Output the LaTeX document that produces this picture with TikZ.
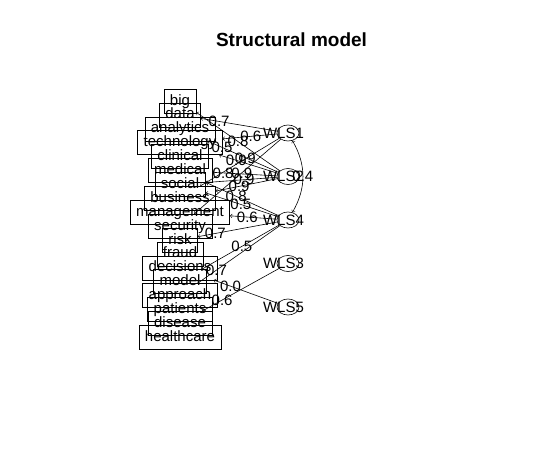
\documentclass[tikz,border=0pt]{standalone}
\usepackage{fontspec}
\setmainfont{Liberation Sans}
\usetikzlibrary{positioning, shapes.geometric, arrows}

\begin{document}
\begin{tikzpicture}
	[x=1pt, y=-1pt, on grid, line width=0.6pt, font=\fontsize{15}{17}\selectfont,
	 word/.style={draw, rectangle, inner xsep=6pt, inner ysep=0pt, minimum height=24pt,
	   text height=11pt, text depth=3pt},
	 latent/.style={draw, ellipse, minimum width=22pt, minimum height=16pt, inner sep=0pt},
	 lattext/.style={xshift=-4.5pt, inner sep=0pt},
	 load/.style={inner sep=0pt}]
   \useasboundingbox (0,0) rectangle (546,458);
   \node[font=\fontsize{19}{22}\selectfont\bfseries] (title) at (291.5,40) {Structural model};

   % observed words
   \node[word] (big) at (180,101) {big};
   \node[word] (data) [below=13.9pt of big] {data};
   \node[word] (analytics) [below=13.9pt of data] {analytics};
   \node[word] (technology) [below=13.9pt of analytics] {technology};
   \node[word] (clinical) [below=13.9pt of technology] {clinical};
   \node[word] (medical) [below=13.9pt of clinical] {medical};
   \node[word] (social) [below=13.9pt of medical] {social};
   \node[word] (business) [below=13.9pt of social] {business};
   \node[word] (management) [below=13.9pt of business] {management};
   \node[word] (security) [below=13.9pt of management] {security};
   \node[word] (risk) [below=13.9pt of security] {risk};
   \node[word] (fraud) [below=13.9pt of risk] {fraud};
   \node[word] (decisions) [below=13.9pt of fraud] {decisions};
   \node[word] (model) [below=13.9pt of decisions] {model};
   \node[word] (approach) [below=13.9pt of model] {approach};
   \node[word] (patients) [below=13.9pt of approach] {patients};
   \node[word] (disease) [below=13.9pt of patients] {disease};
   \node[word] (healthcare) [below=13.9pt of disease] {healthcare};

   % latent factors
   \node[latent, label={[lattext]center:WLS1}] (wls1) at (288,133) {};
   \node[latent, label={[lattext]center:WLS2}] (wls2) [below=43.5pt of wls1] {};
   \node[latent, label={[lattext]center:WLS4}] (wls4) [below=43.5pt of wls2] {};
   \node[latent, label={[lattext]center:WLS3}] (wls3) [below=43.5pt of wls4] {};
   \node[latent, label={[lattext]center:WLS5}] (wls5) [below=43.5pt of wls3] {};

    \path[->]
    (wls1) edge node[load,pos=0.76] {0.7} (data)
    (wls2) edge node[load,pos=0.8] {0.5} (analytics)
    (wls2) edge node[load,pos=0.5] {0.8} (big)
    (wls1) edge node[load,pos=0.48] {0.6} (technology)
    (wls2) edge node[load,pos=0.71] {0.9} (technology)
    (wls2) edge node[load,pos=0.83] {0.8} (medical)
    (wls1) edge node[load,pos=0.43] {0.9} (business)
    (wls1) edge node[load,pos=0.45] {0.9} (security)
    (wls2) edge node[load,pos=0.46] {0.9} (social)
    (wls4) edge node[load,pos=0.59] {0.8} (medical)
    (wls2) edge node[load,pos=0.62] {0.9} (business)
    (wls4) edge node[load,pos=0.51] {0.5} (social)
    (wls4) edge node[load,pos=0.63] {0.6} (management)
    (wls4) edge node[load,pos=0.78] {0.7} (risk)
    (wls4) edge node[load,pos=0.48] {0.5} (model)
    (wls4) edge node[load,pos=0.77] {0.7} (approach)
    (wls5) edge node[load,pos=0.74] {0.0} (decisions)
    (wls3) edge node[load,pos=0.74] {0.6} (disease)
    (wls1) edge [<->, out=-60, in=60] node[load] {0.4} (wls4);
\end{tikzpicture}
\end{document}
